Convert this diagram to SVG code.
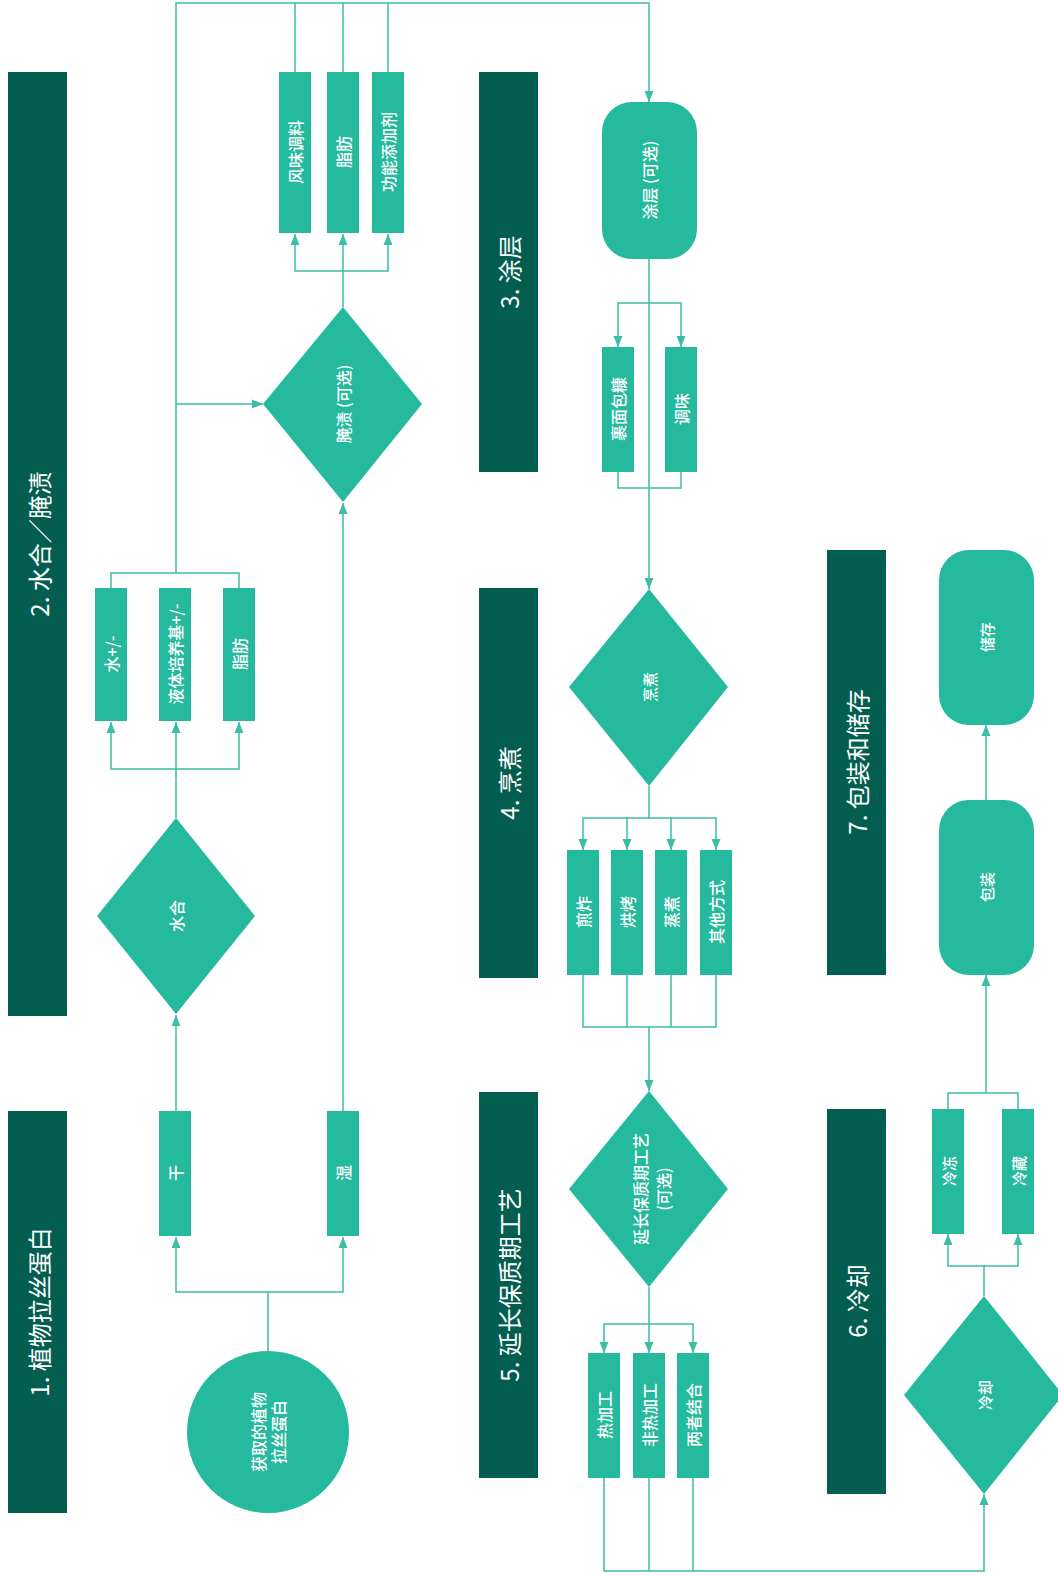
<svg xmlns="http://www.w3.org/2000/svg" width="1058" height="1576" viewBox="0 0 1058 1576">
<style>
.lane{fill:#035e4f}
.n{fill:#25b99e}
.lt{fill:#ffffff;font-family:"Noto Sans CJK SC","Noto Sans",sans-serif;font-size:24px;text-anchor:middle;dominant-baseline:central}
.t{fill:#ffffff;font-family:"Noto Sans CJK SC","Noto Sans",sans-serif;font-size:16px;font-weight:500;text-anchor:middle;dominant-baseline:central}
.s{font-size:15px}
.c{fill:none;stroke:#3dbda4;stroke-width:1.5}
</style>
<defs>
<marker id="a" markerUnits="userSpaceOnUse" markerWidth="12" markerHeight="10" refX="11" refY="5" orient="auto">
<path d="M0,0.5 L11,5 L0,9.5 z" fill="#3dbda4"/>
</marker>
</defs>
<rect width="1058" height="1576" fill="#ffffff"/>

<g id="lanes">
<g id="lane1"><rect class="lane" x="8" y="1111" width="59" height="402"/><text class="lt" transform="translate(38,1312) rotate(-90)">1. 植物拉丝蛋白</text></g>
<g id="lane2"><rect class="lane" x="8" y="72" width="59" height="944"/><text class="lt" transform="translate(38,544) rotate(-90)">2. 水合／腌渍</text></g>
<g id="lane3"><rect class="lane" x="479" y="72" width="59" height="400"/><text class="lt" transform="translate(508,272) rotate(-90)">3. 涂层</text></g>
<g id="lane4"><rect class="lane" x="479" y="588" width="59" height="390"/><text class="lt" transform="translate(508,783) rotate(-90)">4. 烹煮</text></g>
<g id="lane5"><rect class="lane" x="479" y="1092" width="59" height="386"/><text class="lt" transform="translate(508,1285) rotate(-90)">5. 延长保质期工艺</text></g>
<g id="lane6"><rect class="lane" x="827" y="1109" width="59" height="385"/><text class="lt" transform="translate(856,1301) rotate(-90)">6. 冷却</text></g>
<g id="lane7"><rect class="lane" x="827" y="550" width="59" height="425"/><text class="lt" transform="translate(856,762) rotate(-90)">7. 包装和储存</text></g>
</g>

<g id="connectors">
<path class="c" d="M268,1351 V1292 H176 V1237" marker-end="url(#a)"/>
<path class="c" d="M268,1292 H343 V1237" marker-end="url(#a)"/>
<path class="c" d="M176,1111 V1015" marker-end="url(#a)"/>
<path class="c" d="M343,1111 V503" marker-end="url(#a)"/>
<path class="c" d="M176,818 V769 H111 V722" marker-end="url(#a)"/>
<path class="c" d="M176,769 V722" marker-end="url(#a)"/>
<path class="c" d="M176,769 H239 V722" marker-end="url(#a)"/>
<path class="c" d="M111,588 V573 H239 V588"/>
<path class="c" d="M176,573 V3 H649 V102" marker-end="url(#a)"/>
<path class="c" d="M176,404 H263" marker-end="url(#a)"/>
<path class="c" d="M343,307 V271 H295 V234" marker-end="url(#a)"/>
<path class="c" d="M343,271 V234" marker-end="url(#a)"/>
<path class="c" d="M343,271 H388 V234" marker-end="url(#a)"/>
<path class="c" d="M295,72 V3 M343,72 V3 M388,72 V3"/>
<path class="c" d="M649,259 V589" marker-end="url(#a)"/>
<path class="c" d="M649,303 H618 V347" marker-end="url(#a)"/>
<path class="c" d="M649,303 H681 V347" marker-end="url(#a)"/>
<path class="c" d="M618,472 V488 H681 V472"/>
<path class="c" d="M649,786 V818 H583 V850" marker-end="url(#a)"/>
<path class="c" d="M627,818 V850" marker-end="url(#a)"/>
<path class="c" d="M649,818 H671 V850" marker-end="url(#a)"/>
<path class="c" d="M671,818 H716 V850" marker-end="url(#a)"/>
<path class="c" d="M583,975 V1027 H716 V975 M627,975 V1027 M671,975 V1027"/>
<path class="c" d="M649,1027 V1091" marker-end="url(#a)"/>
<path class="c" d="M649,1287 V1324 H604 V1353" marker-end="url(#a)"/>
<path class="c" d="M649,1324 V1353" marker-end="url(#a)"/>
<path class="c" d="M649,1324 H693 V1353" marker-end="url(#a)"/>
<path class="c" d="M604,1478 V1571 H984 V1494" marker-end="url(#a)"/>
<path class="c" d="M649,1478 V1571 M693,1478 V1571"/>
<path class="c" d="M984,1296 V1266 H948 V1234" marker-end="url(#a)"/>
<path class="c" d="M984,1266 H1018 V1234" marker-end="url(#a)"/>
<path class="c" d="M948,1109 V1093 H1018 V1109"/>
<path class="c" d="M986,1093 V975" marker-end="url(#a)"/>
<path class="c" d="M986,800 V725" marker-end="url(#a)"/>
</g>

<g id="n-source"><circle class="n" cx="268" cy="1432" r="81"/><text class="t" transform="translate(268,1432) rotate(-90)"><tspan x="0" y="-10">获取的植物</tspan><tspan x="0" y="10">拉丝蛋白</tspan></text></g>
<g id="n-dry"><rect class="n" x="159" y="1111" width="32" height="125"/><text class="t" transform="translate(175,1173) rotate(-90)">干</text></g>
<g id="n-wet"><rect class="n" x="327" y="1111" width="32" height="125"/><text class="t" transform="translate(343,1173) rotate(-90)">湿</text></g>
<g id="n-hydrate"><polygon class="n" points="176,818 255,916 176,1014 97,916"/><text class="t" transform="translate(176,916) rotate(-90)">水合</text></g>
<g id="n-water"><rect class="n" x="95" y="588" width="32" height="133"/><text class="t" transform="translate(111,654) rotate(-90)">水+/-</text></g>
<g id="n-medium"><rect class="n" x="159" y="588" width="32" height="133"/><text class="t" transform="translate(175,654) rotate(-90)">液体培养基+/-</text></g>
<g id="n-fat1"><rect class="n" x="223" y="588" width="32" height="133"/><text class="t" transform="translate(239,654) rotate(-90)">脂肪</text></g>
<g id="n-marinate"><polygon class="n" points="343,307 422,404 343,502 263,404"/><text class="t" transform="translate(343,404) rotate(-90)">腌渍 (可选)</text></g>
<g id="n-flavor"><rect class="n" x="279" y="72" width="32" height="161"/><text class="t" transform="translate(295,152) rotate(-90)">风味调料</text></g>
<g id="n-fat2"><rect class="n" x="327" y="72" width="32" height="161"/><text class="t" transform="translate(343,152) rotate(-90)">脂肪</text></g>
<g id="n-additive"><rect class="n" x="372" y="72" width="32" height="161"/><text class="t" transform="translate(388,152) rotate(-90)">功能添加剂</text></g>
<g id="n-coating"><rect class="n" x="602" y="102" width="95" height="157" rx="30" ry="30"/><text class="t" transform="translate(649,180) rotate(-90)">涂层 (可选)</text></g>
<g id="n-breading"><rect class="n" x="602" y="347" width="32" height="125"/><text class="t" transform="translate(618,409) rotate(-90)">裹面包糠</text></g>
<g id="n-season"><rect class="n" x="665" y="347" width="32" height="125"/><text class="t" transform="translate(681,409) rotate(-90)">调味</text></g>
<g id="n-cook"><polygon class="n" points="649,589 728,687 649,786 569,687"/><text class="t s" transform="translate(649,687) rotate(-90)">烹煮</text></g>
<g id="n-fry"><rect class="n" x="567" y="850" width="32" height="125"/><text class="t" transform="translate(583,912) rotate(-90)">煎炸</text></g>
<g id="n-bake"><rect class="n" x="611" y="850" width="32" height="125"/><text class="t" transform="translate(627,912) rotate(-90)">烘烤</text></g>
<g id="n-steam"><rect class="n" x="655" y="850" width="32" height="125"/><text class="t" transform="translate(671,912) rotate(-90)">蒸煮</text></g>
<g id="n-other"><rect class="n" x="700" y="850" width="32" height="125"/><text class="t" transform="translate(716,912) rotate(-90)">其他方式</text></g>
<g id="n-shelf"><polygon class="n" points="649,1091 728,1189 649,1287 569,1189"/><text class="t" transform="translate(649,1189) rotate(-90)"><tspan x="0" y="-9">延长保质期工艺</tspan><tspan x="0" y="14">(可选)</tspan></text></g>
<g id="n-heat"><rect class="n" x="588" y="1353" width="32" height="125"/><text class="t" transform="translate(604,1415) rotate(-90)">热加工</text></g>
<g id="n-nonheat"><rect class="n" x="633" y="1353" width="32" height="125"/><text class="t" transform="translate(649,1415) rotate(-90)">非热加工</text></g>
<g id="n-both"><rect class="n" x="677" y="1353" width="32" height="125"/><text class="t" transform="translate(693,1415) rotate(-90)">两者结合</text></g>
<g id="n-cool"><polygon class="n" points="984,1296 1063,1395 984,1494 904,1395"/><text class="t s" transform="translate(984,1395) rotate(-90)">冷却</text></g>
<g id="n-freeze"><rect class="n" x="932" y="1109" width="32" height="125"/><text class="t s" transform="translate(948,1171) rotate(-90)">冷冻</text></g>
<g id="n-chill"><rect class="n" x="1002" y="1109" width="32" height="125"/><text class="t s" transform="translate(1018,1171) rotate(-90)">冷藏</text></g>
<g id="n-pack"><rect class="n" x="939" y="800" width="95" height="175" rx="30" ry="30"/><text class="t s" transform="translate(986,887) rotate(-90)">包装</text></g>
<g id="n-store"><rect class="n" x="939" y="550" width="95" height="175" rx="30" ry="30"/><text class="t s" transform="translate(986,637) rotate(-90)">储存</text></g>
</svg>
